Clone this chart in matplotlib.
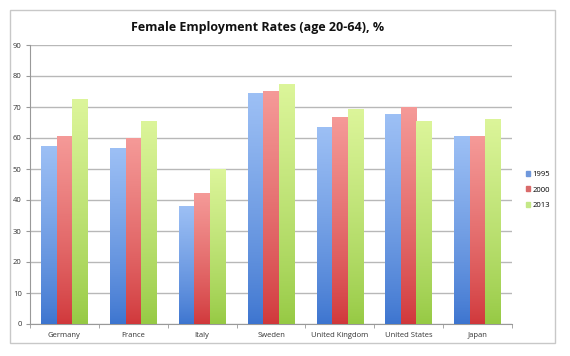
import matplotlib.pyplot as plt
import matplotlib.patches as mpatches
from matplotlib.colors import LinearSegmentedColormap
import numpy as np

# values
countries = ['Germany', 'France', 'Italy', 'Sweden', 'United Kingdom', 'United States', 'Japan']
years = ['1995', '2000', '2013']
rate_1995 = [57.5, 56.9, 38.1, 74.4, 63.7, 67.7, 60.8]
rate_2000 = [60.7, 60.1, 42.2, 75.3, 66.9, 70.1, 60.5]
rate_2013 = [72.5, 65.5, 50.0, 77.3, 69.4, 65.5, 66.2]

# (top colour, bottom colour) for the gradient fill of each series
grads = [('#9dc0f5', '#3c74cf'), ('#f59a98', '#d0373a'), ('#dcf59a', '#95c943')]

fig = plt.figure(figsize=(5.7, 3.56), dpi=100)
plt.rcParams['font.family'] = ['Open Sans', 'DejaVu Sans']

# outer chart border
fig.patches.append(mpatches.Rectangle((10 / 570, 13 / 356), 545 / 570, 333 / 356,
                                      transform=fig.transFigure, fill=False,
                                      edgecolor='#c8c8c8', linewidth=1))

ax = fig.add_axes([30 / 570, 32 / 356, 482 / 570, 279 / 356])

x = np.arange(len(countries))
w = 0.225
series = [rate_1995, rate_2000, rate_2013]
bars_all = []
for i, vals in enumerate(series):
    bars = ax.bar(x + (i - 1) * w, vals, w, color=grads[i][1], label=years[i],
                  zorder=2, linewidth=0)
    bars_all.append(bars)

ax.set_xlim(-0.5, len(countries) - 0.5)
ax.set_ylim(0, 90)

# vertical gradient, clipped to each bar (lighter at the top)
grad_img = np.linspace(0, 1, 256).reshape(-1, 1) ** 0.8
for i, bars in enumerate(bars_all):
    cmap = LinearSegmentedColormap.from_list('g%d' % i, [grads[i][1], grads[i][0]])
    for b in bars:
        bx, by = b.get_x(), b.get_y()
        bw, bh = b.get_width(), b.get_height()
        im = ax.imshow(grad_img, cmap=cmap, aspect='auto', origin='lower',
                       extent=[bx, bx + bw, by, by + bh], zorder=3)
        im.set_clip_path(b)
        b.set_facecolor('none')

ax.set_xlim(-0.5, len(countries) - 0.5)
ax.set_ylim(0, 90)
ax.set_yticks(range(0, 91, 10))
ax.yaxis.grid(True, color='#b8b8b8', linewidth=1)
ax.set_axisbelow(True)

ax.set_xticks(x)
ax.set_xticklabels(countries)
ax.set_xticks(np.arange(-0.5, len(countries), 1), minor=True)
ax.tick_params(axis='x', which='major', length=0, labelsize=5.5, colors='#333333', pad=6)
ax.tick_params(axis='x', which='minor', length=3, color='#999999')
ax.tick_params(axis='y', length=3, color='#999999', labelsize=5.5, labelcolor='#333333', pad=3)

for s in ['top', 'right']:
    ax.spines[s].set_visible(False)
ax.spines['left'].set_color('#999999')
ax.spines['bottom'].set_color('#999999')

fig.text(258 / 570, 1 - 28 / 356, 'Female Employment Rates (age 20-64), %',
         ha='center', va='center', fontsize=9, fontweight='bold', color='#111111')

handles = [mpatches.Patch(color=c) for c in ['#6f98dc', '#d96a6a', '#c4e887']]
leg = fig.legend(handles, years, loc='center left', bbox_to_anchor=(519 / 570, 1 - 190 / 356),
                 frameon=False, fontsize=5.5, handlelength=0.6, handleheight=0.6,
                 handletextpad=0.3, labelspacing=1.1)

fig.savefig('out.png', dpi=100)
